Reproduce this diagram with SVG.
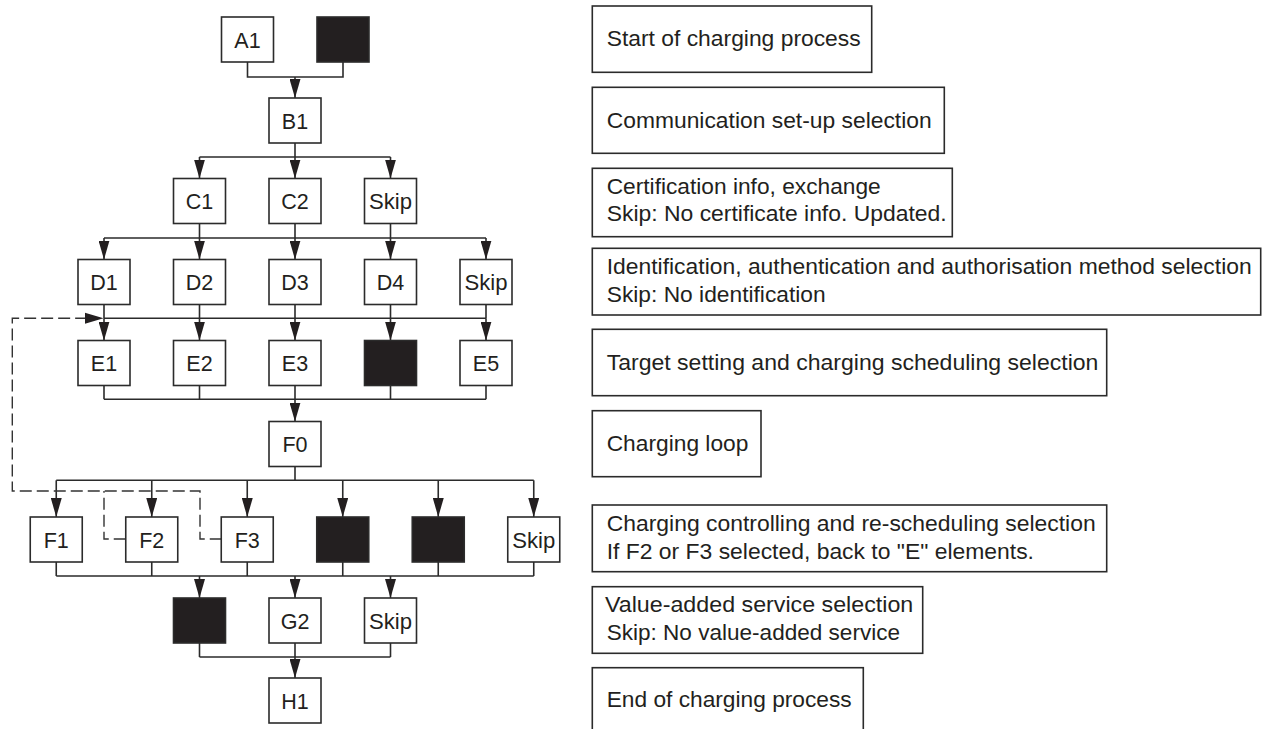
<svg xmlns="http://www.w3.org/2000/svg" width="1266" height="729" viewBox="0 0 1266 729">
<style>
.bx{fill:#fff;stroke:#2b2b2b;stroke-width:1.6}
.bk{fill:#231f20;stroke:#2b2b2b;stroke-width:1.6}
.lb{font-family:"Liberation Sans",Arial,sans-serif;font-size:21.5px;fill:#231f20;text-anchor:middle}
.rt{font-family:"Liberation Sans",Arial,sans-serif;font-size:22.5px;fill:#231f20}
.ln{fill:none;stroke:#2b2b2b;stroke-width:1.6}
.ar{fill:none;stroke:#2b2b2b;stroke-width:1.6;marker-end:url(#ah)}
.ds{fill:none;stroke:#333;stroke-width:1.4;stroke-dasharray:12 5}
</style>
<defs>
<marker id="ah" viewBox="0 0 19 11" refX="19" refY="5.5" markerWidth="19" markerHeight="11" markerUnits="userSpaceOnUse" orient="auto">
<path d="M0,0 L19,5.5 L0,11 z" fill="#231f20"/>
</marker>
</defs>
<rect width="1266" height="729" fill="#fff"/>

<g id="connectors">
<path class="ln" d="M247.5,62 V77 H343 V62"/>
<path class="ar" d="M295,77 V98"/>
<path class="ln" d="M295,143 V157 M199.5,157 H390.5"/>
<path class="ar" d="M199.5,157 V178.5"/>
<path class="ar" d="M295,157 V178.5"/>
<path class="ar" d="M390.5,157 V178.5"/>
<path class="ln" d="M199.5,223.5 V238 M295,223.5 V238 M390.5,223.5 V238 M104,238 H486"/>
<path class="ar" d="M104,238 V259.5"/>
<path class="ar" d="M199.5,238 V259.5"/>
<path class="ar" d="M295,238 V259.5"/>
<path class="ar" d="M390.5,238 V259.5"/>
<path class="ar" d="M486,238 V259.5"/>
<path class="ln" d="M104,304.5 V318.3 M199.5,304.5 V318.3 M295,304.5 V318.3 M390.5,304.5 V318.3 M486,304.5 V318.3 M104,318.3 H486"/>
<path class="ar" d="M104,318.3 V340.5"/>
<path class="ar" d="M199.5,318.3 V340.5"/>
<path class="ar" d="M295,318.3 V340.5"/>
<path class="ar" d="M390.5,318.3 V340.5"/>
<path class="ar" d="M486,318.3 V340.5"/>
<path class="ln" d="M104,385.5 V399.3 M199.5,385.5 V399.3 M295,385.5 V399.3 M390.5,385.5 V399.3 M486,385.5 V399.3 M104,399.3 H486"/>
<path class="ar" d="M295,399.3 V421.5"/>
<path class="ln" d="M295,466.5 V480.3 M56.25,480.3 H533.75"/>
<path class="ar" d="M56.25,480.3 V517"/>
<path class="ar" d="M151.75,480.3 V517"/>
<path class="ar" d="M247.25,480.3 V517"/>
<path class="ar" d="M342.75,480.3 V517"/>
<path class="ar" d="M438.25,480.3 V517"/>
<path class="ar" d="M533.75,480.3 V517"/>
<path class="ln" d="M56.25,562 V576 M151.75,562 V576 M247.25,562 V576 M342.75,562 V576 M438.25,562 V576 M533.75,562 V576 M56.25,576 H533.75"/>
<path class="ar" d="M199.5,576 V598"/>
<path class="ar" d="M295,576 V598"/>
<path class="ar" d="M390.5,576 V598"/>
<path class="ln" d="M199.5,643 V657 M295,643 V657 M390.5,643 V657 M199.5,657 H390.5"/>
<path class="ar" d="M295,657 V678"/>
<path class="ds" d="M125.75,539 H104 V491"/>
<path class="ds" d="M221.75,539 H200 V491 H12.3 V318.3 H86"/>
<path d="M85,312.8 L103.5,318.3 L85,323.8 z" fill="#231f20"/>
</g>

<g id="A1"><rect class="bx" x="221.5" y="17" width="52" height="45"/><text class="lb" x="247.5" y="47.5">A1</text></g>
<g id="A2"><rect class="bk" x="317" y="17" width="52" height="45"/></g>
<g id="B1"><rect class="bx" x="269" y="98" width="52" height="45"/><text class="lb" x="295" y="128.5">B1</text></g>
<g id="C1"><rect class="bx" x="173.5" y="178.5" width="52" height="45"/><text class="lb" x="199.5" y="209">C1</text></g>
<g id="C2"><rect class="bx" x="269" y="178.5" width="52" height="45"/><text class="lb" x="295" y="209">C2</text></g>
<g id="CSkip"><rect class="bx" x="364.5" y="178.5" width="52" height="45"/><text class="lb" x="390.5" y="209" textLength="43" lengthAdjust="spacingAndGlyphs">Skip</text></g>
<g id="D1"><rect class="bx" x="78" y="259.5" width="52" height="45"/><text class="lb" x="104" y="290">D1</text></g>
<g id="D2"><rect class="bx" x="173.5" y="259.5" width="52" height="45"/><text class="lb" x="199.5" y="290">D2</text></g>
<g id="D3"><rect class="bx" x="269" y="259.5" width="52" height="45"/><text class="lb" x="295" y="290">D3</text></g>
<g id="D4"><rect class="bx" x="364.5" y="259.5" width="52" height="45"/><text class="lb" x="390.5" y="290">D4</text></g>
<g id="DSkip"><rect class="bx" x="460" y="259.5" width="52" height="45"/><text class="lb" x="486" y="290" textLength="43" lengthAdjust="spacingAndGlyphs">Skip</text></g>
<g id="E1"><rect class="bx" x="78" y="340.5" width="52" height="45"/><text class="lb" x="104" y="371">E1</text></g>
<g id="E2"><rect class="bx" x="173.5" y="340.5" width="52" height="45"/><text class="lb" x="199.5" y="371">E2</text></g>
<g id="E3"><rect class="bx" x="269" y="340.5" width="52" height="45"/><text class="lb" x="295" y="371">E3</text></g>
<g id="E4"><rect class="bk" x="364.5" y="340.5" width="52" height="45"/></g>
<g id="E5"><rect class="bx" x="460" y="340.5" width="52" height="45"/><text class="lb" x="486" y="371">E5</text></g>
<g id="F0"><rect class="bx" x="269" y="421.5" width="52" height="45"/><text class="lb" x="295" y="452">F0</text></g>
<g id="F1"><rect class="bx" x="30.25" y="517" width="52" height="45"/><text class="lb" x="56.25" y="547.5">F1</text></g>
<g id="F2"><rect class="bx" x="125.75" y="517" width="52" height="45"/><text class="lb" x="151.75" y="547.5">F2</text></g>
<g id="F3"><rect class="bx" x="221.25" y="517" width="52" height="45"/><text class="lb" x="247.25" y="547.5">F3</text></g>
<g id="F4"><rect class="bk" x="316.75" y="517" width="52" height="45"/></g>
<g id="F5"><rect class="bk" x="412.25" y="517" width="52" height="45"/></g>
<g id="FSkip"><rect class="bx" x="507.75" y="517" width="52" height="45"/><text class="lb" x="533.75" y="547.5" textLength="43" lengthAdjust="spacingAndGlyphs">Skip</text></g>
<g id="G1"><rect class="bk" x="173.5" y="598" width="52" height="45"/></g>
<g id="G2"><rect class="bx" x="269" y="598" width="52" height="45"/><text class="lb" x="295" y="628.5">G2</text></g>
<g id="GSkip"><rect class="bx" x="364.5" y="598" width="52" height="45"/><text class="lb" x="390.5" y="628.5" textLength="43" lengthAdjust="spacingAndGlyphs">Skip</text></g>
<g id="H1"><rect class="bx" x="269" y="678" width="52" height="45"/><text class="lb" x="295" y="708.5">H1</text></g>

<g id="desc-A"><rect class="bx" x="592.3" y="6" width="279.4" height="66.3"/><text class="rt" x="606.7" y="46" textLength="254" lengthAdjust="spacingAndGlyphs">Start of charging process</text></g>
<g id="desc-B"><rect class="bx" x="592.3" y="87.3" width="352" height="66"/><text class="rt" x="606.7" y="127.5" textLength="325" lengthAdjust="spacingAndGlyphs">Communication set-up selection</text></g>
<g id="desc-C"><rect class="bx" x="592.3" y="168.3" width="360" height="68.4"/><text class="rt" x="606.7" y="194" textLength="274" lengthAdjust="spacingAndGlyphs">Certification info, exchange</text><text class="rt" x="606.7" y="221" textLength="340" lengthAdjust="spacingAndGlyphs">Skip: No certificate info. Updated.</text></g>
<g id="desc-D"><rect class="bx" x="592.3" y="248.3" width="668.4" height="66.7"/><text class="rt" x="606.7" y="273.8" textLength="645" lengthAdjust="spacingAndGlyphs">Identification, authentication and authorisation method selection</text><text class="rt" x="606.7" y="302" textLength="219" lengthAdjust="spacingAndGlyphs">Skip: No identification</text></g>
<g id="desc-E"><rect class="bx" x="592.3" y="329.3" width="514.4" height="66.4"/><text class="rt" x="606.7" y="369.8" textLength="491.7" lengthAdjust="spacingAndGlyphs">Target setting and charging scheduling selection</text></g>
<g id="desc-F0"><rect class="bx" x="592.3" y="410.7" width="168.7" height="66"/><text class="rt" x="606.7" y="451" textLength="141.7" lengthAdjust="spacingAndGlyphs">Charging loop</text></g>
<g id="desc-F"><rect class="bx" x="592.3" y="505" width="514.4" height="66.7"/><text class="rt" x="606.7" y="531" textLength="489" lengthAdjust="spacingAndGlyphs">Charging controlling and re-scheduling selection</text><text class="rt" x="606.7" y="558.8" textLength="427.3" lengthAdjust="spacingAndGlyphs">If F2 or F3 selected, back to "E" elements.</text></g>
<g id="desc-G"><rect class="bx" x="592.3" y="586.7" width="330.4" height="66.6"/><text class="rt" x="605" y="612" textLength="308.3" lengthAdjust="spacingAndGlyphs">Value-added service selection</text><text class="rt" x="606.7" y="639.5" textLength="293.3" lengthAdjust="spacingAndGlyphs">Skip: No value-added service</text></g>
<g id="desc-H"><rect class="bx" x="592.3" y="667.7" width="271" height="70"/><text class="rt" x="606.7" y="707" textLength="245" lengthAdjust="spacingAndGlyphs">End of charging process</text></g>
</svg>
